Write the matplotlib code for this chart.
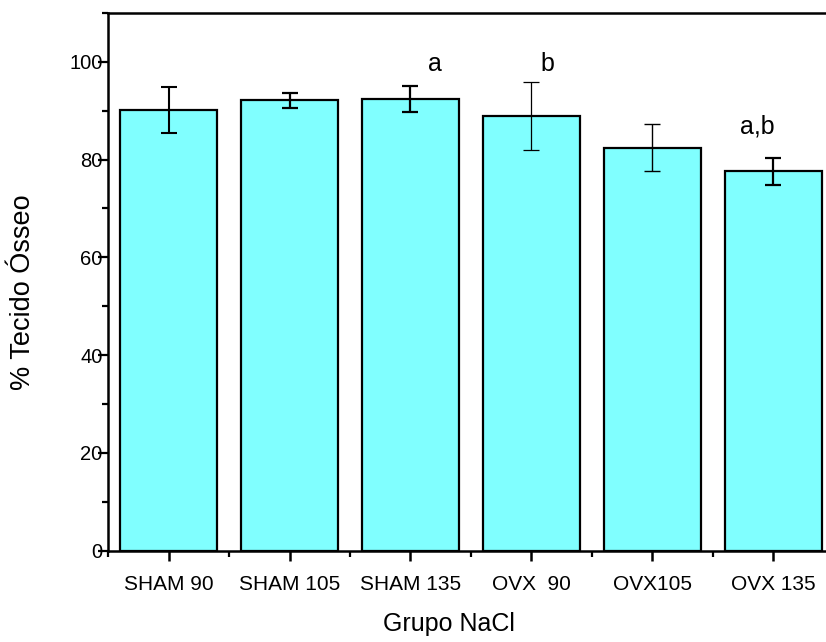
import matplotlib
matplotlib.use("Agg")
import matplotlib.pyplot as plt
from matplotlib.ticker import MultipleLocator, FixedLocator

plt.rcParams['font.family'] = ['Liberation Sans', 'DejaVu Sans']

groups = ["SHAM 90", "SHAM 105", "SHAM 135", "OVX  90", "OVX105", "OVX 135"]
means = [90.2, 92.1, 92.4, 88.9, 82.4, 77.6]
errors = [4.7, 1.6, 2.6, 7.0, 4.8, 2.7]
letters = ["", "", "a", "b", "", "a,b"]
letter_x_offsets = [0.0, 0.0, 0.2, 0.13, 0.0, -0.13]
letter_heights = [0, 0, 98.2, 98.2, 0, 85.4]
err_widths = [1.5, 1.6, 1.6, 0.9, 1.0, 1.6]

fig = plt.figure(figsize=(8.26, 6.42), dpi=100)
ax = fig.add_axes([108 / 826, 1 - 550.6 / 642, 726 / 826, (550.6 - 13) / 642])

x = list(range(len(groups)))
ax.bar(x, means, width=0.8, color="#80FFFF", edgecolor="black", linewidth=1.6, zorder=2)
for xi, m, e, lw in zip(x, means, errors, err_widths):
    ax.errorbar(xi, m, yerr=e, fmt="none", ecolor="black", elinewidth=lw,
                capsize=5.5, capthick=lw, zorder=3)

for xi, lab, off, h in zip(x, letters, letter_x_offsets, letter_heights):
    if lab:
        ax.text(xi + off, h, lab, ha="center", va="baseline", fontsize=18)

ax.set_xlim(-0.5, 5.5)
ax.set_ylim(0, 110)

ax.set_xticks(x)
ax.set_xticklabels(groups, fontsize=15)
ax.xaxis.set_minor_locator(FixedLocator([i - 0.5 for i in range(len(groups) + 1)]))
ax.yaxis.set_major_locator(MultipleLocator(20))
ax.yaxis.set_minor_locator(MultipleLocator(10))
ax.tick_params(axis="y", which="major", direction="out", length=7.5, width=1.6,
               labelsize=14.5, pad=-3.5)
ax.tick_params(axis="y", which="minor", direction="out", length=4.5, width=1.6)
ax.tick_params(axis="x", which="major", direction="out", length=7.5, width=1.8,
               pad=10)
ax.tick_params(axis="x", which="minor", direction="out", length=4.5, width=1.6)

for side in ["left", "bottom", "top"]:
    ax.spines[side].set_linewidth(1.8)
ax.spines["right"].set_visible(False)

ax.set_xlabel("Grupo NaCl", fontsize=18)
ax.xaxis.set_label_coords((449 - 108) / 726, -(612 - 550.6) / 537.6)
ax.set_ylabel("% Tecido Ósseo", fontsize=19.5)
ax.yaxis.set_label_coords(-(108 - 36) / 726, (550.6 - 292) / 537.6)

fig.savefig("out.png", dpi=100)
